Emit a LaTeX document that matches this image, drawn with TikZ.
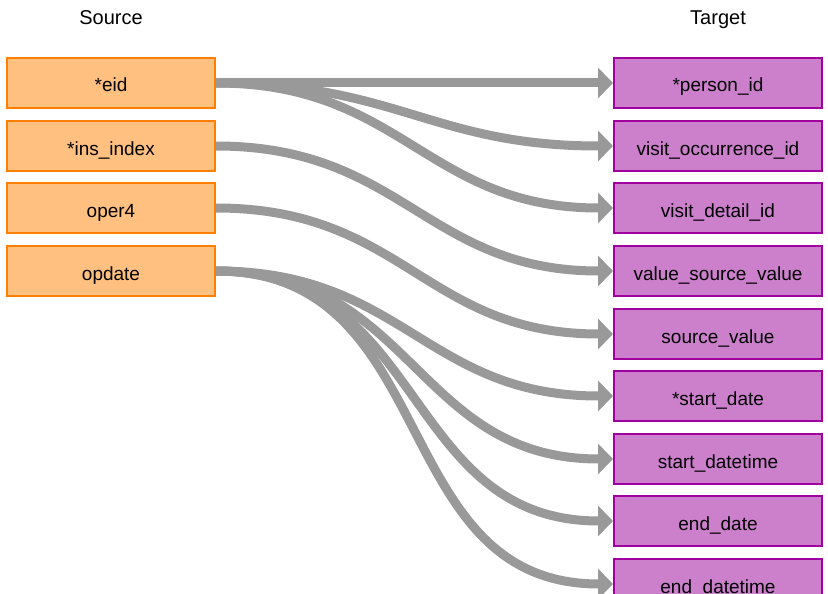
\documentclass[tikz,border=0pt]{standalone}
\usepackage{fontspec}
\setmainfont{Liberation Sans}
\usetikzlibrary{arrows.meta}

\definecolor{srcfill}{HTML}{FFC080}
\definecolor{srcline}{HTML}{FF8000}
\definecolor{tgtfill}{HTML}{CC80CC}
\definecolor{tgtline}{HTML}{A000A0}
\definecolor{mapgray}{HTML}{999999}

\begin{document}
\begin{tikzpicture}[x=1pt,y=-1pt,
    srcbox/.style={draw=srcline,fill=srcfill,line width=2pt,minimum width=208pt,minimum height=50pt,text height=18pt,text depth=0pt,font=\fontsize{19}{21}\selectfont},
    tgtbox/.style={draw=tgtline,fill=tgtfill,line width=2pt,minimum width=208pt,minimum height=50pt,text height=18pt,text depth=0pt,font=\fontsize{19}{21}\selectfont},
    coltitle/.style={font=\fontsize{20}{22}\selectfont,text height=14pt,text depth=0pt},
    map/.style={draw=mapgray,line width=9pt,-{Triangle[length=15pt,width=30pt]},out=0,in=180,looseness=1.15}
]

\useasboundingbox (0,0) rectangle (828,594);
\clip (0,0) rectangle (828,594);

% Column titles
\node[coltitle] (srctitle) at (111,18) {Source};
\node[coltitle] (tgttitle) at (718,18) {Target};

% Source fields
\node[srcbox] (eid) at (111,83) {*eid};
\node[srcbox] (insindex) at (111,146) {*ins\_index};
\node[srcbox] (oper) at (111,208) {oper4};
\node[srcbox] (opdate) at (111,271) {opdate};

% Target fields
\node[tgtbox] (personid) at (718,83) {*person\_id};
\node[tgtbox] (visitocc) at (718,146) {visit\_occurrence\_id};
\node[tgtbox] (visitdet) at (718,208) {visit\_detail\_id};
\node[tgtbox] (valsrc) at (718,271) {value\_source\_value};
\node[tgtbox] (srcval) at (718,334) {source\_value};
\node[tgtbox] (startdate) at (718,396) {*start\_date};
\node[tgtbox] (startdt) at (718,459) {start\_datetime};
\node[tgtbox] (enddate) at (718,521) {end\_date};
\node[tgtbox] (enddt) at (718,584) {end\_datetime};

% Mappings
\draw[map] (eid.east) to (personid.west);
\draw[map] (eid.east) to (visitocc.west);
\draw[map] (eid.east) to (visitdet.west);
\draw[map] (insindex.east) to (valsrc.west);
\draw[map] (oper.east) to (srcval.west);
\draw[map] (opdate.east) to (startdate.west);
\draw[map] (opdate.east) to (startdt.west);
\draw[map] (opdate.east) to (enddate.west);
\draw[map] (opdate.east) to (enddt.west);

\end{tikzpicture}
\end{document}
